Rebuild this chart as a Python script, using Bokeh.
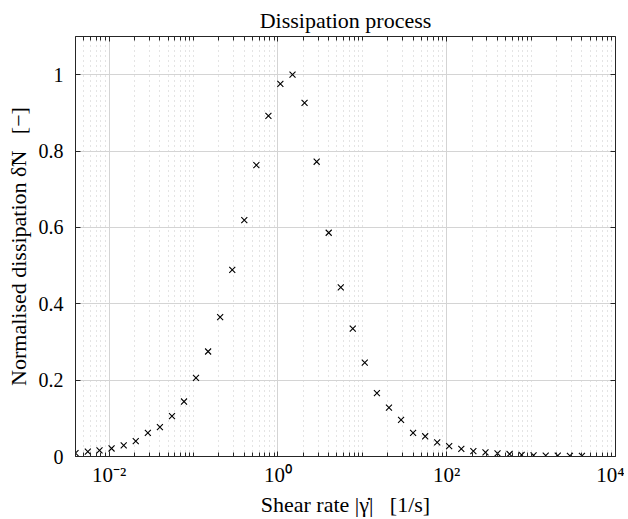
from bokeh.plotting import figure
from bokeh.models import (Range1d, LogAxis, LinearAxis, FixedTicker,
                          CustomJSTickFormatter, PrintfTickFormatter)
from bokeh.embed import file_html
from bokeh.resources import INLINE

# ---- data ----
shear_rate = [0.0040, 0.0056, 0.0077, 0.0107, 0.0149, 0.0207, 0.0288, 0.0400, 0.0556, 0.0772,
              0.107, 0.149, 0.207, 0.288, 0.400, 0.556, 0.772, 1.07, 1.49, 2.07,
              2.88, 4.00, 5.56, 7.72, 10.7, 14.9, 20.7, 28.8, 40.0, 55.6,
              77.2, 107, 149, 207, 288, 400, 556, 772, 1070, 1490,
              2070, 2880, 4000]
dissipation = [0.009, 0.0125, 0.016, 0.021, 0.029, 0.040, 0.062, 0.077, 0.106, 0.144,
               0.206, 0.275, 0.365, 0.489, 0.619, 0.763, 0.892, 0.976, 1.0, 0.926,
               0.772, 0.586, 0.443, 0.335, 0.246, 0.166, 0.128, 0.096, 0.062, 0.053,
               0.037, 0.027, 0.020, 0.014, 0.011, 0.008, 0.0065, 0.004, 0.003, 0.0025,
               0.002, 0.0018, 0.0015]

x_major_ticks = [1e-2, 1e0, 1e2, 1e4]
x_major_labels = {"0.01": "10⁻²", "1": "10⁰", "100": "10²", "10000": "10⁴"}
y_major_ticks = [0, 0.2, 0.4, 0.6, 0.8, 1.0]

NB = "\u00a0"
title_text = "Dissipation process"
x_label = "Shear rate |γ̇|" + NB * 3 + "[1/s]"
y_label = "Normalised dissipation δ̃N" + NB * 3 + "[−]"

# minor ticks of the log axis
x_minor_ticks = []
for d in range(-3, 4):
    for m in range(1, 10):
        v = m * 10.0 ** d
        if v not in x_major_ticks and 0.004 <= v <= 1e4:
            x_minor_ticks.append(v)

FONT = "Liberation Serif"
AXC = "#262626"

p = figure(width=624, height=519, x_axis_type="log",
           x_range=Range1d(0.004, 1e4), y_range=Range1d(0, 1.1),
           output_backend="svg", toolbar_location=None,
           min_border_left=75, min_border_right=9, min_border_top=36,
           min_border_bottom=61)

p.title.text = title_text
p.title.align = "center"
p.title.text_font = FONT
p.title.text_font_size = "22px"
p.title.text_font_style = "normal"
p.title.text_color = "#000000"
p.title.standoff = 7

p.outline_line_color = None
p.background_fill_color = "white"
p.border_fill_color = "white"

xt = FixedTicker(ticks=x_major_ticks, minor_ticks=x_minor_ticks)
yt = FixedTicker(ticks=y_major_ticks, minor_ticks=[])

xfmt = CustomJSTickFormatter(args=dict(lab=x_major_labels), code="""
    const k = String(Number(tick.toPrecision(6)));
    return (k in lab) ? lab[k] : "";
""")

def style_axis(ax):
    ax.axis_line_color = AXC
    ax.axis_line_width = 1
    ax.major_tick_line_color = AXC
    ax.minor_tick_line_color = AXC
    ax.major_tick_in = 5
    ax.major_tick_out = 0
    ax.minor_tick_in = 4
    ax.minor_tick_out = 0
    ax.major_label_text_font = FONT
    ax.major_label_text_color = "#000000"
    ax.axis_label_text_font = FONT
    ax.axis_label_text_font_style = "normal"
    ax.axis_label_text_color = "#000000"
    ax.major_label_text_font_size = "20px"
    ax.axis_label_text_font_size = "22px"

xa = p.xaxis[0]
xa.ticker = xt
xa.formatter = xfmt
xa.axis_label = x_label
style_axis(xa)
xa.major_label_text_font_size = "21px"
xa.major_label_standoff = 6
xa.axis_label_standoff = 2

ya = p.yaxis[0]
ya.ticker = yt
ya.formatter = PrintfTickFormatter(format="%g")
ya.axis_label = y_label
style_axis(ya)
ya.major_label_standoff = 12
ya.axis_label_standoff = 5

top = LogAxis(ticker=xt)
style_axis(top)
top.major_label_text_font_size = "1px"
top.major_label_text_color = None
top.major_label_standoff = 0
p.add_layout(top, "above")

right = LinearAxis(ticker=yt)
style_axis(right)
right.major_label_text_font_size = "1px"
right.major_label_text_color = None
right.major_label_standoff = 0
p.add_layout(right, "right")

p.xgrid.ticker = xt
p.ygrid.ticker = yt
p.xgrid.grid_line_color = "#d4d4d4"
p.ygrid.grid_line_color = "#d4d4d4"
p.xgrid.grid_line_width = 1
p.ygrid.grid_line_width = 1
p.xgrid.minor_grid_line_color = "#c8c8c8"
p.xgrid.minor_grid_line_dash = "1 4"
p.xgrid.minor_grid_line_width = 1
p.ygrid.minor_grid_line_color = None

p.scatter(shear_rate, dissipation, marker="x", size=8.5, line_color="black",
          line_width=1.1)

open("out.html", "w").write(file_html(p, INLINE))
